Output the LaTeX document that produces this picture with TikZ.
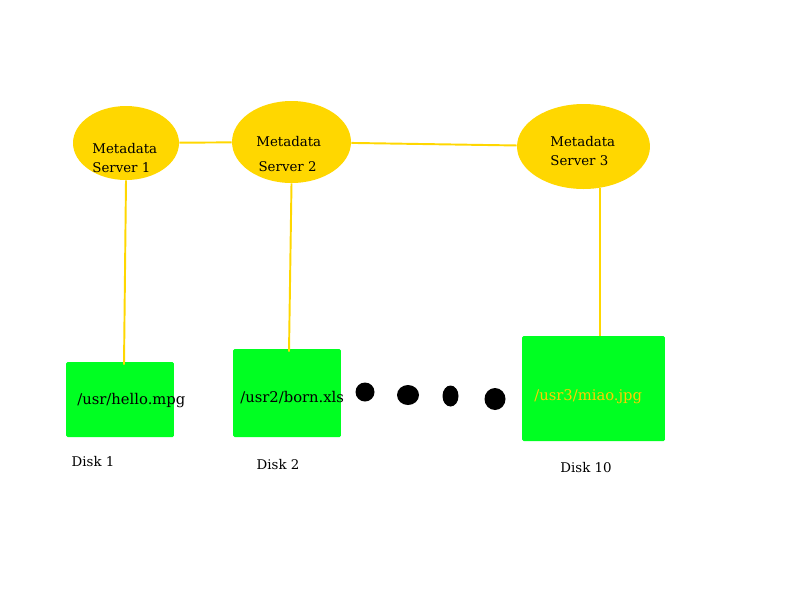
\documentclass[tikz,border=0pt]{standalone}
\usepackage{fontspec}
\setmainfont{DejaVu Serif}
\usetikzlibrary{shapes.geometric}
\definecolor{metagold}{HTML}{FFD700}
\definecolor{diskgreen}{HTML}{00FF22}
\begin{document}
\begin{tikzpicture}[
                x = 0.02cm, y = -0.02cm,
                server/.style = {ellipse, fill = metagold, inner sep = 0mm},
                disk/.style = {rectangle, fill = diskgreen, rounded corners = 0.3mm, inner sep = 0mm},
                txt/.style = {font = \fontsize{7.6}{11}\selectfont, inner sep = 0mm, align = left},
                file/.style = {font = \fontsize{8.4}{11}\selectfont, inner sep = 0mm, anchor = west},
                dot/.style = {ellipse, fill = black, inner sep = 0mm},
                link/.style = {draw, metagold, line width = 1.1pt},
            ]
            \useasboundingbox (0, 0) rectangle (800, 600);

            % 1 px = 0.2 mm
            \node (S1) at (126, 143) [server, minimum width = 21.2mm, minimum height = 14.8mm] {};
            \node (S2) at (291.5, 142) [server, minimum width = 23.8mm, minimum height = 16.4mm] {};
            \node (S3) at (583.5, 146.5) [server, minimum width = 26.6mm, minimum height = 17mm] {};

            \node (T1) at (92, 158) [txt, anchor = west] {Metadata\\Server 1};
            \node (T2) at (256, 154) [txt, anchor = west] {Metadata\\[1mm] \,Server 2};
            \node (T3) at (550, 151) [txt, anchor = west] {Metadata\\Server 3};

            \node (D1) at (120, 399.5) [disk, minimum width = 21.6mm, minimum height = 15mm] {};
            \node (D2) at (287, 393) [disk, minimum width = 21.6mm, minimum height = 17.6mm] {};
            \node (D3) at (593.5, 388.5) [disk, minimum width = 28.6mm, minimum height = 21mm] {};

            \node (F1) at (77, 401) [file] {/usr/hello.mpg};
            \node (F2) at (240, 398) [file] {/usr2/born.xls};
            \node (F3) at (534, 397) [file, text = metagold!90!orange] {/usr3/miao.jpg};

            \node (L1) at (93, 462) [txt] {Disk 1};
            \node (L2) at (278, 465) [txt] {Disk 2};
            \node (L3) at (586, 468) [txt] {Disk 10};

            \node (P1) at (365, 392) [dot, minimum width = 3.8mm, minimum height = 3.8mm] {};
            \node (P2) at (408, 395) [dot, minimum width = 4.4mm, minimum height = 4mm] {};
            \node (P3) at (450.5, 396) [dot, minimum width = 3.2mm, minimum height = 4.2mm] {};
            \node (P4) at (495, 399) [dot, minimum width = 4.2mm, minimum height = 4.4mm] {};

            \path[link] (S1) -- (S2);
            \path[link] (S2) -- (S3);
            \path[link] (S1.south) -- ([xshift = 0.8mm, yshift = -0.6mm] D1.north);
            \path[link] (S2.south) -- ([xshift = 0.4mm, yshift = -0.6mm] D2.north);
            \path[link] (S3.-68) -- (S3.-68 |- D3.north);
        \end{tikzpicture}
\end{document}
